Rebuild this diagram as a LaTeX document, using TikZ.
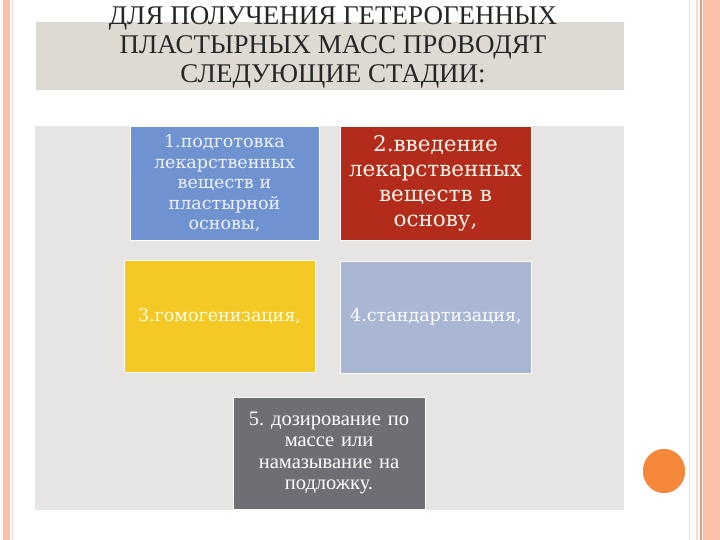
\documentclass[tikz,border=0pt]{standalone}
\usepackage{fontspec}
\usetikzlibrary{shapes.geometric}
\setmainfont{Liberation Serif}
\newfontfamily\boxserif{DejaVu Serif}
\newfontfamily\condserif{Liberation Serif}
\definecolor{salmon}{HTML}{FBC0A8}
\definecolor{salmonline}{HTML}{EE9A78}
\definecolor{faintline}{HTML}{F3DDD2}
\definecolor{bandcol}{HTML}{DEDAD2}
\definecolor{panelcol}{HTML}{E6E5E3}
\definecolor{bluebox}{HTML}{6F93D1}
\definecolor{redbox}{HTML}{B22B1B}
\definecolor{yellowbox}{HTML}{F4C925}
\definecolor{lavbox}{HTML}{A9B7D5}
\definecolor{greybox}{HTML}{6D6F75}
\definecolor{orangedot}{HTML}{F5883A}
\tikzset{
  stage/.style={draw=white, line width=1pt, inner sep=2pt, align=center, anchor=center},
}
\begin{document}
\frenchspacing
\begin{tikzpicture}[x=1pt,y=-1pt]
\useasboundingbox (0,0) rectangle (720,540);
\fill[white] (0,0) rectangle (720,540);
% borders
\fill[salmon] (3,0) rectangle (10,540);
\draw[faintline, line width=0.8pt] (12.5,0) -- (12.5,540);
\draw[faintline, line width=1.2pt] (689.5,0) -- (689.5,540);
\draw[faintline, line width=1.2pt] (697,0) -- (697,540);
\draw[salmonline, line width=1.2pt] (701,0) -- (701,540);
\fill[salmon] (702.5,0) rectangle (720,540);
% title band
\fill[bandcol] (36,22) rectangle (624,90);
\node[font=\fontsize{27}{29}\selectfont, text=black!85, align=center, anchor=center] (title) at (333,47)
  {ДЛЯ ПОЛУЧЕНИЯ ГЕТЕРОГЕННЫХ\\ПЛАСТЫРНЫХ МАСС ПРОВОДЯТ\\СЛЕДУЮЩИЕ СТАДИИ:};
% panel
\fill[panelcol] (35,126) rectangle (624,510);
% boxes
\node[stage, fill=bluebox, minimum width=189pt, minimum height=113pt, text width=185pt,
  text=white!95!blue, font=\boxserif\fontsize{17.5}{20.5}\selectfont] (s1) at (224.5,183.5)
  {1.подготовка\\лекарственных\\веществ и\\пластырной\\основы,};
\node[stage, fill=redbox, minimum width=189pt, minimum height=113pt, text width=187pt,
  text=white!92!orange, font=\boxserif\fontsize{21.5}{25}\selectfont] (s2) at (435.5,183.5)
  {2.введение\\лекарственных\\веществ в\\основу,};
\node[stage, fill=yellowbox, minimum width=189pt, minimum height=112pt, text width=187pt,
  text=white!90!yellow, font=\boxserif\fontsize{17.5}{19}\selectfont] (s3) at (219.5,316)
  {3.гомогенизация,};
\node[stage, fill=lavbox, minimum width=188pt, minimum height=112pt, text width=187pt,
  text=white, font=\boxserif\fontsize{17.5}{19}\selectfont] (s4) at (436,317)
  {4.стандартизация,};
\node[stage, fill=greybox, minimum width=192pt, minimum height=112pt, text width=188pt,
  text=white, font=\condserif\fontsize{20.5}{21.5}\selectfont] (s5) at (329,453)
  {5. дозирование по\\массе или\\намазывание на\\подложку.};
% orange dot
\node[ellipse, fill=orangedot, draw=white, line width=1.5pt, minimum width=44pt, minimum height=46pt, inner sep=0pt] (dot) at (664,471) {};
\end{tikzpicture}
\end{document}
